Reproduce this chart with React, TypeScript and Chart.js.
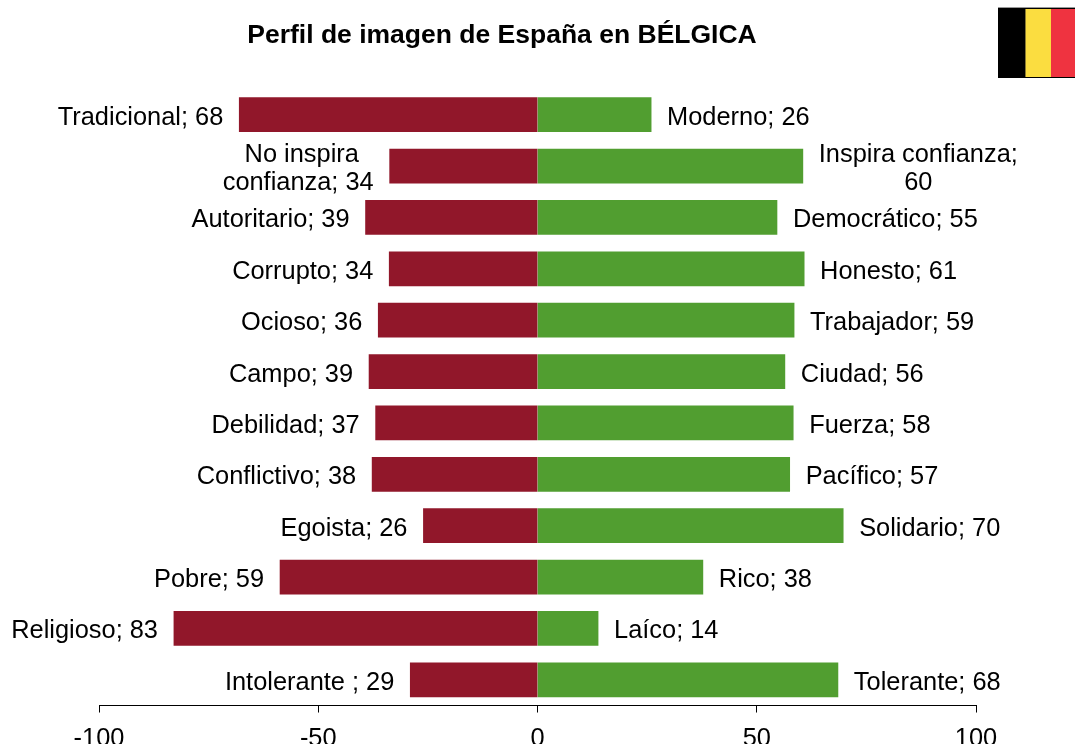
import React, { useEffect, useRef } from "react";
import { Chart, registerables } from "chart.js";

Chart.register(...registerables);

const categories = [
  "Tradicional / Moderno", "Confianza", "Autoritario / Democrático", "Corrupto / Honesto",
  "Ocioso / Trabajador", "Campo / Ciudad", "Debilidad / Fuerza", "Conflictivo / Pacífico",
  "Egoista / Solidario", "Pobre / Rico", "Religioso / Laíco", "Intolerante / Tolerante",
];
const negativeValues = [-68, -33.7, -39.2, -33.8, -36.3, -38.4, -36.9, -37.7, -26, -58.7, -82.9, -29];
const positiveValues = [25.9, 60.5, 54.6, 60.8, 58.5, 56.4, 58.3, 57.5, 69.7, 37.7, 13.8, 68.5];
const negativeLabels: string[][] = [
  ["Tradicional; 68"], [" No inspira", "confianza; 34"], ["Autoritario; 39"], ["Corrupto; 34"],
  ["Ocioso; 36"], ["Campo; 39"], ["Debilidad; 37"], ["Conflictivo; 38"],
  ["Egoista; 26"], ["Pobre; 59"], ["Religioso; 83"], ["Intolerante ; 29"],
];
const positiveLabels: string[][] = [
  ["Moderno; 26"], ["Inspira confianza;", "60"], ["Democrático; 55"], ["Honesto; 61"],
  ["Trabajador; 59"], ["Ciudad; 56"], ["Fuerza; 58"], ["Pacífico; 57"],
  ["Solidario; 70"], ["Rico; 38"], ["Laíco; 14"], ["Tolerante; 68"],
];
const titleText = "Perfil de imagen de España en BÉLGICA";

const FONT = '"Liberation Sans", Arial, sans-serif';
const RED = "#91172A";
const GREEN = "#519E30";

const overlay = {
  id: "overlayText",
  afterDraw(chart: any) {
    const { ctx, scales } = chart;
    ctx.save();
    ctx.fillStyle = "#000";
    ctx.textBaseline = "middle";
    ctx.font = `bold 26.5px ${FONT}`;
    ctx.textAlign = "center";
    ctx.fillText(titleText, 502, 36);

    ctx.font = `25.4px ${FONT}`;
    const lineHeight = 28.5;
    const gap = 16;
    const drawBlock = (lines: string[], edge: number, y: number, side: number) => {
      const w = Math.max(...lines.map((l) => ctx.measureText(l).width));
      const cx = edge + side * (gap + w / 2);
      lines.forEach((l, i) => {
        ctx.textAlign = "center";
        ctx.fillText(l, cx, y + 3 + (i - (lines.length - 1) / 2) * lineHeight);
      });
    };
    categories.forEach((_, i) => {
      const y = scales.y.getPixelForValue(i);
      drawBlock(negativeLabels[i], scales.x.getPixelForValue(negativeValues[i]), y, -1);
      drawBlock(positiveLabels[i], scales.x.getPixelForValue(positiveValues[i]), y, 1);
    });
    ctx.restore();
  },
};

export default function App() {
  const ref = useRef<HTMLCanvasElement>(null);
  useEffect(() => {
    const chart = new Chart(ref.current as HTMLCanvasElement, {
      type: "bar",
      data: {
        labels: categories,
        datasets: [
          { data: negativeValues, backgroundColor: RED, stack: "s", inflateAmount: 0.4 },
          { data: positiveValues, backgroundColor: GREEN, stack: "s", inflateAmount: 0.4 },
        ],
      },
      options: {
        indexAxis: "y",
        responsive: false,
        animation: false,
        layout: { padding: { left: 99, right: 99, top: 89, bottom: 0 } },
        datasets: { bar: { categoryPercentage: 1, barPercentage: 0.66 } },
        plugins: { legend: { display: false }, tooltip: { enabled: false }, title: { display: false } },
        scales: {
          x: {
            type: "linear",
            min: -100,
            max: 100,
            stacked: true,
            border: { display: true, color: "#000", width: 1 },
            grid: { drawOnChartArea: false, drawTicks: true, tickLength: 7, color: "#000", tickColor: "#000" },
            ticks: {
              stepSize: 50,
              autoSkip: false,
              maxRotation: 0,
              padding: 11,
              color: "#000",
              font: { family: FONT, size: 25.4 },
            },
          },
          y: { type: "category", stacked: true, display: false },
        },
      } as any,
      plugins: [overlay],
    });
    return () => chart.destroy();
  }, []);
  return (
    <div style={{ position: "absolute", left: 0, top: 0, width: 1075, height: 744, overflow: "hidden", background: "#fff" }}>
      <canvas ref={ref} width={1075} height={765} style={{ display: "block" }} />
      <div style={{ position: "absolute", left: 998, top: 7, width: 77, height: 71, background: "#000", borderTop: "1px solid #999", boxSizing: "border-box" }}>
        <div style={{ position: "absolute", left: 27, top: 1, width: 26, height: 68, background: "#FBDD40", boxShadow: "inset 1px 0 0 #8a7a30" }} />
        <div style={{ position: "absolute", left: 53, top: 1, width: 24, height: 68, background: "#EF3340" }} />
      </div>
    </div>
  );
}
